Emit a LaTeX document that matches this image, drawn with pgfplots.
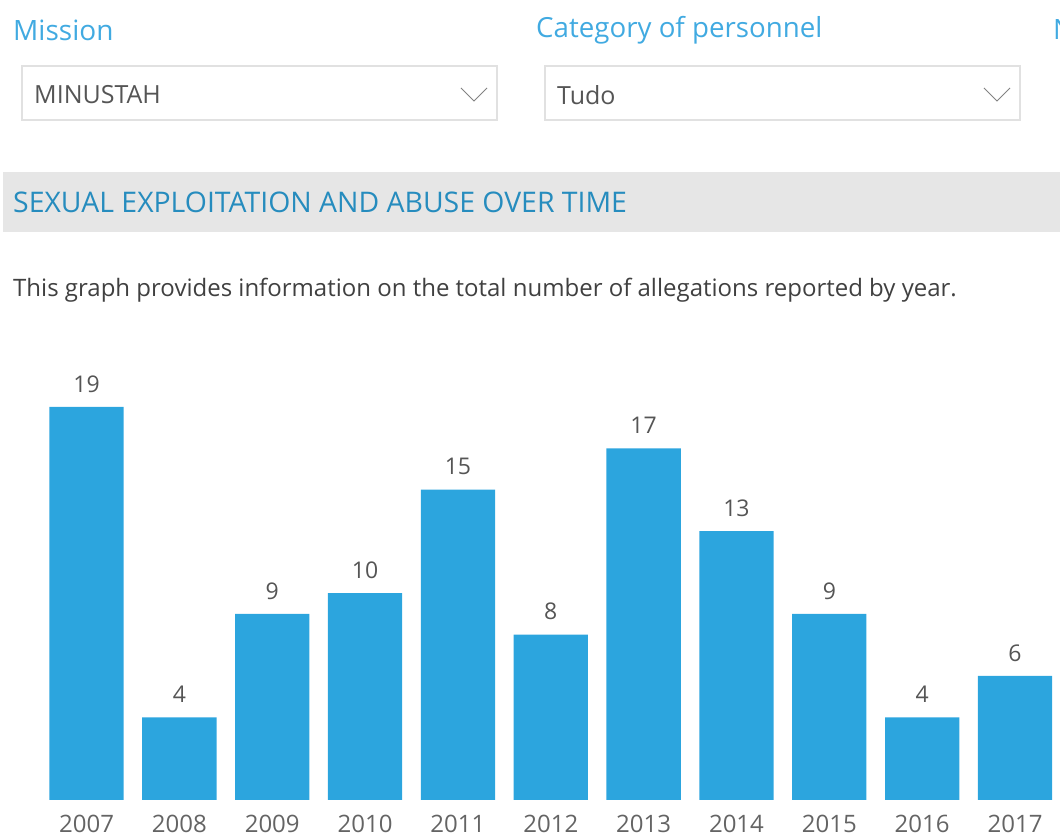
\documentclass[border=0pt]{standalone}
\usepackage{fontspec}
\setmainfont{Open Sans}
\usepackage{pgfplots}
\pgfplotsset{compat=1.18}
\definecolor{lblblue}{RGB}{65,170,225}
\definecolor{hdrblue}{RGB}{38,140,190}
\definecolor{desc}{RGB}{64,64,64}
\definecolor{ddtext}{RGB}{85,85,85}
\definecolor{boxborder}{RGB}{225,225,225}
\definecolor{chev}{RGB}{130,130,130}
\definecolor{barblue}{RGB}{44,165,222}
\definecolor{valgray}{RGB}{85,85,85}
\definecolor{yeargray}{RGB}{100,100,100}
\definecolor{band}{RGB}{230,230,230}
\begin{document}
\begin{tikzpicture}[x=1pt,y=1pt]
\path[use as bounding box] (0,0) rectangle (1060,837);
% filter labels
\node[anchor=west,inner sep=0,text=lblblue,font=\fontsize{28}{32}\selectfont] at (13,807) {Mission};
\node[anchor=west,inner sep=0,text=lblblue,font=\fontsize{27.7}{32}\selectfont] at (536,807) {Category of personnel};
\node[anchor=west,inner sep=0,text=lblblue,font=\fontsize{28}{32}\selectfont] at (1053,807) {N};
% dropdowns
\draw[boxborder,line width=1.2pt] (22,771) rectangle (497,717);
\node[anchor=west,inner sep=0,text=ddtext,font=\fontsize{25}{28}\selectfont] at (34,742) {MINUSTAH};
\draw[chev,line width=1pt] (461,749) -- (474,736) -- (487,749);
\draw[boxborder,line width=1.2pt] (545,771) rectangle (1020,717);
\node[anchor=west,inner sep=0,text=ddtext,font=\fontsize{25}{28}\selectfont] at (557,742) {Tudo};
\draw[chev,line width=1pt] (984,749) -- (997,736) -- (1010,749);
% header band
\fill[band] (3,665) rectangle (1060,605);
\node[anchor=west,inner sep=0,text=hdrblue,font=\fontsize{28.4}{32}\selectfont] at (13,635) {SEXUAL EXPLOITATION AND ABUSE OVER TIME};
\node[anchor=west,inner sep=0,text=desc,font=\fontsize{24}{28}\selectfont] at (13,547) {This graph provides information on the total number of allegations reported by year.};
% chart
\begin{axis}[
  at={(40.1pt,37pt)}, anchor=south west,
  scale only axis, width=1021.35pt, height=413.7pt,
  xmin=-0.5, xmax=10.5, ymin=0, ymax=20,
  axis line style={draw=none},
  ytick=\empty,
  xtick=data,
  major tick length=0pt,
  xticklabels={2007,2008,2009,2010,2011,2012,2013,2014,2015,2016,2017},
  xticklabel style={anchor=center,yshift=-23.5pt,text=yeargray,font=\fontsize{24}{26}\selectfont},
  /pgf/number format/assume math mode=true,
  ybar, bar width=0.8,
  nodes near coords,
  nodes near coords style={anchor=center,yshift=23pt,text=valgray,font=\fontsize{23}{26}\selectfont},
  clip=false,
]
\addplot[fill=barblue,draw=none] coordinates {
(0,19) (1,4) (2,9) (3,10) (4,15) (5,8) (6,17) (7,13) (8,9) (9,4) (10,6)};
\end{axis}
\end{tikzpicture}
\end{document}
